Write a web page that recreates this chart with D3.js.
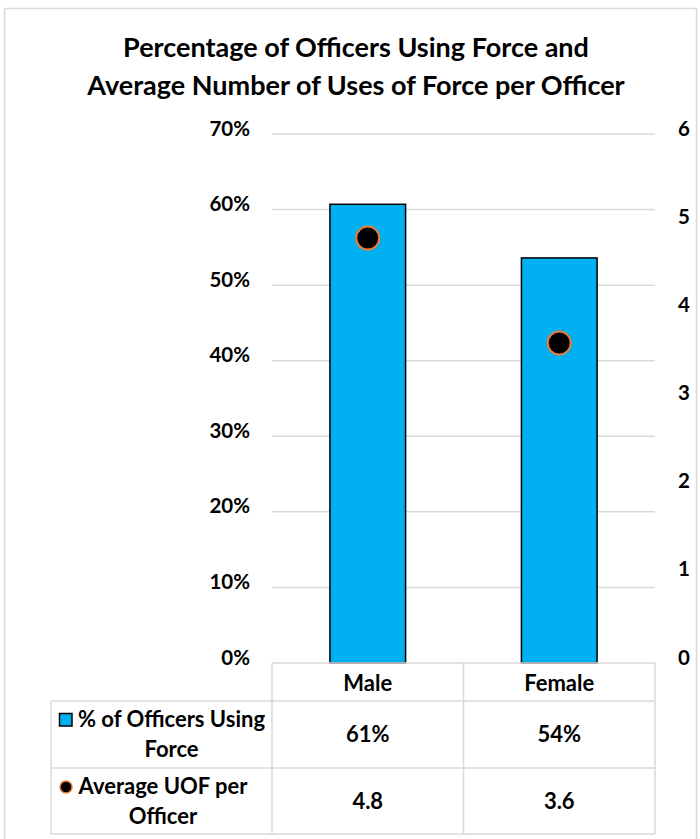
<!DOCTYPE html>
<html>
<head>
<meta charset="utf-8">
<script src="https://cdn.jsdelivr.net/npm/d3@7"></script>
<style>
  html, body { margin: 0; padding: 0; background: #fff; }
  svg { display: block; font-family: Lato, "Open Sans", sans-serif; font-weight: bold; }
</style>
</head>
<body>
<svg id="chart" width="700" height="839"></svg>
<script>
const titleLines = ["Percentage of Officers Using Force and", "Average Number of Uses of Force per Officer"];
const categories = ["Male", "Female"];
const pctUsingForce = [0.607, 0.536];
const avgUOF = [4.82, 3.63];
const pctLabels = ["61%", "54%"];
const avgLabels = ["4.8", "3.6"];
const leftTicks = [0, 0.1, 0.2, 0.3, 0.4, 0.5, 0.6, 0.7];
const rightTicks = [0, 1, 2, 3, 4, 5, 6];
const seriesNames = [["% of Officers Using", "Force"], ["Average UOF per", "Officer"]];

const svg = d3.select("#chart");
const barColor = "#00B0F0", markerStroke = "#ED7D31", gridColor = "#D9D9D9";
const fs = 20.5, tfs = 22;

// outer frame
svg.append("rect").attr("x", 4.5).attr("y", 8.5).attr("width", 692).attr("height", 835)
  .attr("fill", "none").attr("stroke", gridColor).attr("stroke-width", 1.5);

// title
svg.append("g").selectAll("text").data(titleLines).join("text")
  .attr("x", 356).attr("y", (d, i) => 57 + i * 38)
  .attr("text-anchor", "middle").attr("font-size", 27).attr("fill", "#000")
  .text(d => d);

const plotL = 272, plotR = 655, plotT = 134, plotB = 663;
const x = d3.scaleBand().domain(categories).range([plotL, plotR]).paddingInner(0).paddingOuter(0);
const yL = d3.scaleLinear().domain([0, 0.7]).range([plotB, plotT]);
const yR = d3.scaleLinear().domain([0, 6]).range([plotB, plotT]);

// gridlines
svg.append("g").selectAll("line").data(leftTicks.slice(1)).join("line")
  .attr("x1", plotL).attr("x2", plotR)
  .attr("y1", d => yL(d)).attr("y2", d => yL(d))
  .attr("stroke", gridColor).attr("stroke-width", 1.5);

// left axis
const axL = svg.append("g").attr("transform", `translate(${plotL},0)`)
  .call(d3.axisLeft(yL).tickValues(leftTicks).tickFormat(d3.format(".0%")).tickSize(0).tickPadding(22));
axL.select(".domain").remove();
axL.selectAll("text").attr("font-size", fs).attr("font-family", "Lato, sans-serif").attr("font-weight", "bold").attr("fill", "#000").attr("dy", "0.05em");

// right axis
const axR = svg.append("g").attr("transform", `translate(${plotR},0)`)
  .call(d3.axisRight(yR).tickValues(rightTicks).tickFormat(d3.format("d")).tickSize(0).tickPadding(23));
axR.select(".domain").remove();
axR.selectAll("text").attr("font-size", fs).attr("font-family", "Lato, sans-serif").attr("font-weight", "bold").attr("fill", "#000").attr("dy", "0.05em");

// bars
const barW = x.bandwidth() * 0.395;
svg.append("g").selectAll("rect").data(categories).join("rect")
  .attr("x", d => x(d) + x.bandwidth() / 2 - barW / 2)
  .attr("width", barW)
  .attr("y", (d, i) => yL(pctUsingForce[i]))
  .attr("height", (d, i) => plotB - yL(pctUsingForce[i]))
  .attr("fill", barColor).attr("stroke", "#000").attr("stroke-width", 1.5);

// markers
svg.append("g").selectAll("circle").data(categories).join("circle")
  .attr("cx", d => x(d) + x.bandwidth() / 2)
  .attr("cy", (d, i) => yR(avgUOF[i]))
  .attr("r", 11.5)
  .attr("fill", "#000").attr("stroke", markerStroke).attr("stroke-width", 2);

// data table
const tblL = 51, rowY = [663, 701, 768, 834];
const tg = svg.append("g");
function hline(x1, x2, y) { tg.append("line").attr("x1", x1).attr("x2", x2).attr("y1", y).attr("y2", y).attr("stroke", gridColor).attr("stroke-width", 1.5); }
function vline(xx, y1, y2) { tg.append("line").attr("x1", xx).attr("x2", xx).attr("y1", y1).attr("y2", y2).attr("stroke", gridColor).attr("stroke-width", 1.5); }
hline(plotL, plotR, rowY[0]);
hline(tblL, plotR, rowY[1]);
hline(tblL, plotR, rowY[2]);
hline(tblL, plotR, rowY[3]);
vline(tblL, rowY[1], rowY[3]);
vline(plotL, rowY[0], rowY[3]);
vline(x("Female"), rowY[0], rowY[3]);
vline(plotR, rowY[0], rowY[3]);

// header
tg.selectAll("text.hdr").data(categories).join("text").attr("class", "hdr")
  .attr("x", d => x(d) + x.bandwidth() / 2).attr("y", 691)
  .attr("text-anchor", "middle").attr("font-size", tfs).text(d => d);

// values
const valueRows = [pctLabels, avgLabels];
valueRows.forEach((vals, r) => {
  tg.selectAll(null).data(categories).join("text")
    .attr("x", d => x(d) + x.bandwidth() / 2)
    .attr("y", (rowY[r + 1] + rowY[r + 2]) / 2 + 7.5)
    .attr("text-anchor", "middle").attr("font-size", tfs)
    .text((d, i) => vals[i]);
});

// series labels with legend keys
const textCx = [171.5, 163];
seriesNames.forEach((lines, r) => {
  const top = rowY[r + 1];
  tg.selectAll(null).data(lines).join("text")
    .attr("x", textCx[r]).attr("y", (d, i) => top + 26 + i * 29.5)
    .attr("text-anchor", "middle").attr("font-size", tfs).text(d => d);
});
// legend key: square for bars
tg.append("rect").attr("x", 59.5).attr("y", 713.5).attr("width", 12.5).attr("height", 12.5)
  .attr("fill", barColor).attr("stroke", "#000").attr("stroke-width", 1.5);
// legend key: circle for markers
tg.append("circle").attr("cx", 66).attr("cy", 787).attr("r", 6)
  .attr("fill", "#000").attr("stroke", markerStroke).attr("stroke-width", 1.5);
</script>
</body>
</html>
